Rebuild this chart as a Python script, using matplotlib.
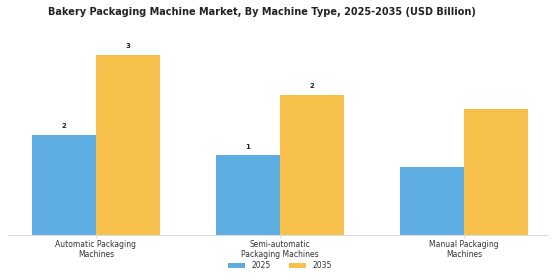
import numpy as np
import matplotlib.pyplot as plt

# bakery packaging machine market by machine type
categories = ["Automatic Packaging\nMachines", "Semi-automatic\nPackaging Machines",
              "Manual Packaging\nMachines"]
years = ["2025", "2035"]
values_2025 = [1.5, 1.2, 1.02]
values_2035 = [2.7, 2.1, 1.89]
show_label = [True, True, False]

colors = {"2025": "#5DADE2", "2035": "#F7C04A"}

fig = plt.figure(figsize=(5.6, 2.8), dpi=100)
ax = fig.add_axes([8 / 560, 45 / 280, 540 / 560, 205 / 280])

x = np.arange(len(categories))
w = 0.35
b1 = ax.bar(x - w / 2, values_2025, w, color=colors["2025"], label="2025")
b2 = ax.bar(x + w / 2, values_2035, w, color=colors["2035"], label="2035")

for bars in (b1, b2):
    for bar, show in zip(bars, show_label):
        if show:
            ax.text(bar.get_x() + bar.get_width() / 2, bar.get_height() + 0.08,
                    f"{bar.get_height():.0f}", ha="center", va="bottom",
                    fontsize=5, fontweight="bold", color="#222222")

ax.set_xlim(-0.478, 2.457)
ax.set_ylim(0, 3.07)
ax.set_xticks(x)
ax.set_xticklabels(categories, fontsize=5.5, color="#333333", linespacing=1.15)
ax.tick_params(axis="x", length=2, width=0.5, color="#cccccc", pad=1.5)
ax.set_yticks([])
for s in ["top", "right", "left"]:
    ax.spines[s].set_visible(False)
ax.spines["bottom"].set_color("#dddddd")
ax.spines["bottom"].set_linewidth(0.8)

fig.suptitle("Bakery Packaging Machine Market, By Machine Type, 2025-2035 (USD Billion)",
             fontsize=7.0, fontweight="bold", x=0.467, y=0.975, color="#222222")
fig.legend(loc="lower center", ncol=2, bbox_to_anchor=(0.5, 0.01), frameon=False,
           fontsize=5.5, handlelength=2.2, handleheight=0.6, columnspacing=2.5,
           labelcolor="#333333")

fig.savefig("out.png", dpi=100, facecolor="white")
